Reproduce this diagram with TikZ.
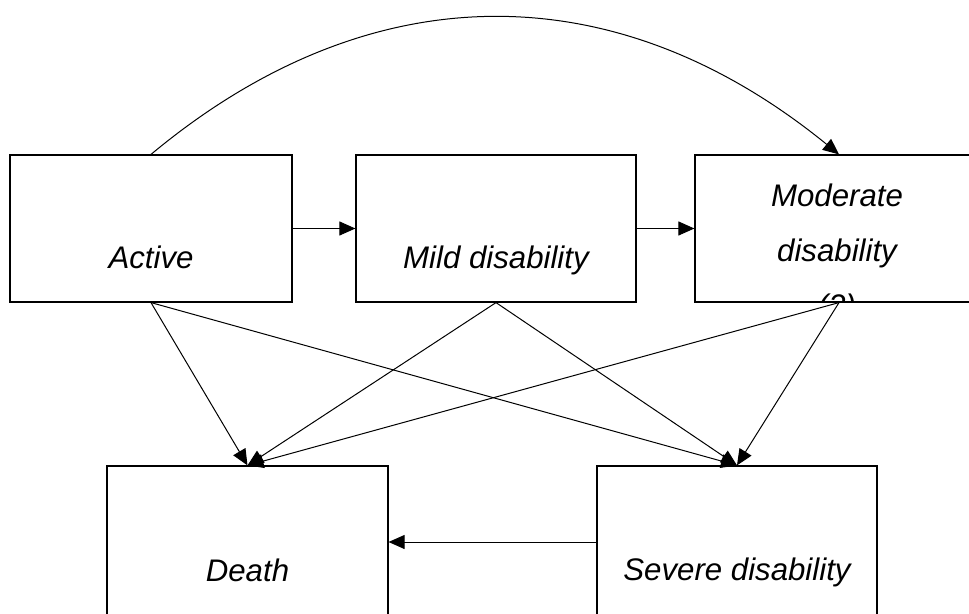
\documentclass[tikz,border=0pt]{standalone}
\usepackage{fontspec}
\setmainfont{Liberation Sans}
\usetikzlibrary{arrows.meta}

\begin{document}
\begin{tikzpicture}[x=0.5pt,y=-0.5pt,
        state/.style={draw, line width=0.6pt, minimum width=141pt, minimum height=73.5pt, inner sep=0pt},
        lbl/.style={font=\fontsize{15.6}{27.5}\selectfont\itshape, anchor=base, align=center, inner sep=0pt},
        arr/.style={-{Triangle[length=8pt,width=7pt]}, line width=0.5pt}]
                \useasboundingbox (0,0) rectangle (969,614);
                \node [state] (act) at (151,228.5) {};
                \node [state, minimum width=140pt] (mild) at (496,228.5) {};
                \node [state, minimum width=144pt] (mod) at (839,228.5) {};
                \node [state, minimum width=140.5pt, minimum height=76pt] (death) at (247.5,542) {};
                \node [state, minimum width=140pt, minimum height=76pt] (sev) at (737,542) {};
                \node [lbl] (actT) at (151,269) {Active};
                \node [lbl] (mildT) at (496,269) {Mild disability};
                \node [lbl] (deathT) at (247.5,581) {Death};
                \node [lbl] (sevT) at (737,580) {Severe disability};
                \begin{scope}
                \clip (mod.north west) rectangle (mod.south east);
                \node [lbl] (modT) at (837,317) {Moderate\\disability\\(2)};
                \end{scope}
                \draw [arr] (act) -- (mild);
                \draw [arr] (mild) -- (mod);
                \draw [arr] (sev) -- (death);
                \draw [arr] (act.north) .. controls (370,-28) and (615,-28) .. (mod.north);
                \draw [arr] (act.south) -- (death.north);
                \draw [arr] (act.south) -- (sev.north);
                \draw [arr] (mild.south) -- (death.north);
                \draw [arr] (mild.south) -- (sev.north);
                \draw [arr] (mod.south) -- (death.north);
                \draw [arr] (mod.south) -- (sev.north);
            \end{tikzpicture}
\end{document}
